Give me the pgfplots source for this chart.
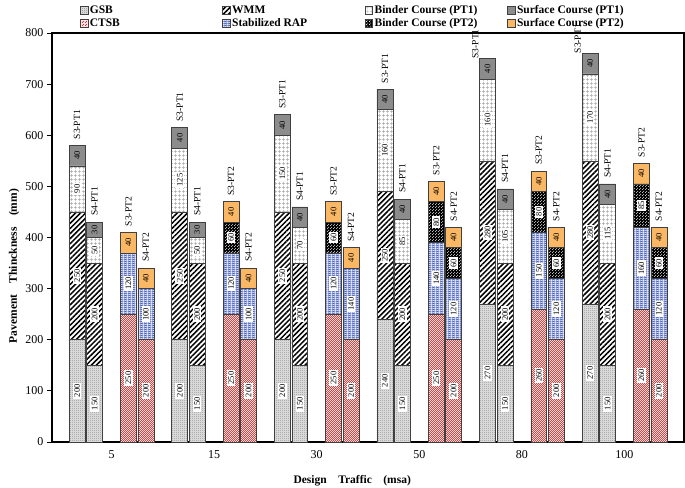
\documentclass[border=0pt]{standalone}
\usepackage{fontspec}
\setmainfont{Liberation Serif}
\usepackage{pgfplots}
\pgfplotsset{compat=1.18}
\usepackage{pgfplotstable}
\usetikzlibrary{patterns,patterns.meta}

\pgfdeclarepatternformonly{fdots}{\pgfpoint{0pt}{0pt}}{\pgfpoint{1.6pt}{1.6pt}}{\pgfpoint{1.6pt}{1.6pt}}{%
  \pgfpathcircle{\pgfpoint{0.4pt}{0.4pt}}{0.45pt}\pgfusepath{fill}%
  \pgfpathcircle{\pgfpoint{1.2pt}{1.2pt}}{0.45pt}\pgfusepath{fill}}
\pgfdeclarepatternformonly{cdots}{\pgfpoint{0pt}{0pt}}{\pgfpoint{2.4pt}{2.4pt}}{\pgfpoint{2.4pt}{2.4pt}}{%
  \pgfpathcircle{\pgfpoint{0.6pt}{0.6pt}}{0.65pt}\pgfusepath{fill}%
  \pgfpathcircle{\pgfpoint{1.8pt}{1.8pt}}{0.65pt}\pgfusepath{fill}}
\pgfdeclarepatternformonly{wdots}{\pgfpoint{0pt}{0pt}}{\pgfpoint{3pt}{3pt}}{\pgfpoint{3pt}{3pt}}{%
  \pgfpathcircle{\pgfpoint{0.75pt}{0.75pt}}{0.65pt}\pgfusepath{fill}%
  \pgfpathcircle{\pgfpoint{2.25pt}{2.25pt}}{0.65pt}\pgfusepath{fill}}
\pgfdeclarepatternformonly{zz}{\pgfpoint{0pt}{0pt}}{\pgfpoint{4pt}{2.2pt}}{\pgfpoint{4pt}{2.2pt}}{%
  \pgfsetlinewidth{0.7pt}%
  \pgfpathmoveto{\pgfpoint{0pt}{0.5pt}}%
  \pgfpathlineto{\pgfpoint{1pt}{1.6pt}}%
  \pgfpathlineto{\pgfpoint{2pt}{0.5pt}}%
  \pgfpathlineto{\pgfpoint{3pt}{1.6pt}}%
  \pgfpathlineto{\pgfpoint{4pt}{0.5pt}}%
  \pgfusepath{stroke}}

\definecolor{sgray}{RGB}{140,140,140}
\definecolor{sorange}{RGB}{250,183,100}
\definecolor{cred}{RGB}{200,55,55}
\definecolor{rblue}{RGB}{60,90,175}

\pgfplotstableread{
x      GSB WMM BA  SA CTSB RAP BB SB lab    side
-0.335 200 250 90  40 0    0   0  0  S3-PT1 0
-0.165 150 200 50  30 0    0   0  0  S4-PT1 0
0.165  0   0   0   0  250  120 0  40 S3-PT2 0
0.335  0   0   0   0  200  100 0  40 S4-PT2 0
0.665  200 250 125 40 0    0   0  0  S3-PT1 0
0.835  150 200 50  30 0    0   0  0  S4-PT1 0
1.165  0   0   0   0  250  120 60 40 S3-PT2 0
1.335  0   0   0   0  200  100 0  40 S4-PT2 0
1.665  200 250 150 40 0    0   0  0  S3-PT1 0
1.835  150 200 70  40 0    0   0  0  S4-PT1 0
2.165  0   0   0   0  250  120 60 40 S3-PT2 0
2.335  0   0   0   0  200  140 0  40 S4-PT2 0
2.665  240 250 160 40 0    0   0  0  S3-PT1 0
2.835  150 200 85  40 0    0   0  0  S4-PT1 0
3.165  0   0   0   0  250  140 80 40 S3-PT2 0
3.335  0   0   0   0  200  120 60 40 S4-PT2 0
3.665  270 280 160 40 0    0   0  0  S3-PT1 1
3.835  150 200 105 40 0    0   0  0  S4-PT1 0
4.165  0   0   0   0  260  150 80 40 S3-PT2 0
4.335  0   0   0   0  200  120 60 40 S4-PT2 0
4.665  270 280 170 40 0    0   0  0  S3-PT1 1
4.835  150 200 115 40 0    0   0  0  S4-PT1 0
5.165  0   0   0   0  260  160 85 40 S3-PT2 0
5.335  0   0   0   0  200  120 60 40 S4-PT2 0
}\data

\pgfplotsset{
  common/.style={scale only axis, width=632pt, height=409pt,
    xmin=-0.58, xmax=5.58, ymin=0, ymax=800},
  lab/.style={only marks, mark=text, text mark={},
    nodes near coords, point meta=explicit symbolic,
    every node near coord/.append style={rotate=90, anchor=center, fill=white,
      inner xsep=1.5pt, inner ysep=1.4pt, font=\fontsize{8.5}{8.5}\selectfont, text=black}},
  slab/.style={lab, every node near coord/.append style={fill=none}},
  toplab/.style={only marks, mark=text, text mark={},
    nodes near coords, point meta=explicit symbolic,
    every node near coord/.append style={rotate=90, anchor=west, fill=none,
      inner sep=0pt, inner xsep=6pt, font=\fontsize{9.5}{9.5}\selectfont, text=black}},
}

\begin{document}
\begin{tikzpicture}
\begin{axis}[common, name=ax,
  ybar stacked, bar width=0.155,
  legend image code/.code={\draw[#1] (0pt,-3.8pt) rectangle (7.6pt,3.8pt);},
  every axis plot/.append style={draw=black!75, line width=0.6pt},
  xtick={0,1,2,3,4,5}, xticklabels={5,15,30,50,80,100},
  ytick={0,100,...,800}, ytick pos=left,
  tick align=outside, major tick length=5pt,
  x tick style={draw=none},
  tick style={line width=0.9pt, black},
  axis line style={line width=1.1pt},
  ticklabel style={font=\fontsize{12}{12}\selectfont},
  /pgf/number format/assume math mode=true,
  xlabel={\bfseries Design\hspace{1em}Traffic\hspace{1em}(msa)},
  xlabel style={at={(axis description cs:0.475,-0.094)}, anchor=center, font=\fontsize{11.5}{12}\selectfont},
  ylabel={\bfseries Pavement\hspace{1em}Thinckness\hspace{1em}(mm)},
  ylabel style={at={(axis description cs:-0.06,0.43)}, anchor=center, font=\fontsize{11.5}{12}\selectfont},
  legend columns=4,
  legend style={draw=none, fill=none, at={(axis description cs:0.044,1.008)}, anchor=south west,
    font=\bfseries\fontsize{11.5}{12}\selectfont, column sep=0pt, row sep=0pt,
    inner sep=0pt, nodes={inner sep=1.6pt}},
]
\addplot[fill=gray!22, postaction={pattern=fdots, pattern color=black!55}] table[x=x,y=GSB]{\data};
\addplot[fill=white, postaction={pattern={Lines[angle=45, distance=3.6pt, line width=1.5pt]}, pattern color=black}] table[x=x,y=WMM]{\data};
\addplot[fill=white, postaction={pattern={Hatch[angle=0, distance=4pt, line width=0.5pt]}, pattern color=gray!70}] table[x=x,y=BA]{\data};
\addplot[fill=sgray] table[x=x,y=SA]{\data};
\addplot[fill=red!10, postaction={pattern=cdots, pattern color=cred}] table[x=x,y=CTSB]{\data};
\addplot[fill=blue!8, postaction={pattern=zz, pattern color=rblue}] table[x=x,y=RAP]{\data};
\addplot[fill=black, postaction={pattern=wdots, pattern color=white}] table[x=x,y=BB]{\data};
\addplot[fill=sorange] table[x=x,y=SB]{\data};
\legend{\makebox[131pt][l]{GSB},\makebox[131pt][l]{WMM},\makebox[131pt][l]{Binder Course (PT1)},\makebox[120pt][l]{Surface Course (PT1)},
  \makebox[131pt][l]{CTSB},\makebox[131pt][l]{Stabilized RAP},\makebox[131pt][l]{Binder Course (PT2)},\makebox[120pt][l]{Surface Course (PT2)}}
\end{axis}
\begin{axis}[common, hide axis, clip=false]
\addplot[lab, restrict expr to domain={\thisrow{GSB}}{1:2000}] table[x=x, y expr=\thisrow{GSB}/2, meta=GSB]{\data};
\addplot[lab, restrict expr to domain={\thisrow{WMM}}{1:2000}] table[x=x, y expr=\thisrow{GSB}+\thisrow{WMM}/2, meta=WMM]{\data};
\addplot[lab, restrict expr to domain={\thisrow{BA}}{1:2000}] table[x=x, y expr=\thisrow{GSB}+\thisrow{WMM}+\thisrow{BA}/2, meta=BA]{\data};
\addplot[slab, restrict expr to domain={\thisrow{SA}}{1:2000}] table[x=x, y expr=\thisrow{GSB}+\thisrow{WMM}+\thisrow{BA}+\thisrow{SA}/2, meta=SA]{\data};
\addplot[lab, restrict expr to domain={\thisrow{CTSB}}{1:2000}] table[x=x, y expr=\thisrow{CTSB}/2, meta=CTSB]{\data};
\addplot[lab, restrict expr to domain={\thisrow{RAP}}{1:2000}] table[x=x, y expr=\thisrow{CTSB}+\thisrow{RAP}/2, meta=RAP]{\data};
\addplot[lab, restrict expr to domain={\thisrow{BB}}{1:2000}] table[x=x, y expr=\thisrow{CTSB}+\thisrow{RAP}+\thisrow{BB}/2, meta=BB]{\data};
\addplot[slab, restrict expr to domain={\thisrow{SB}}{1:2000}] table[x=x, y expr=\thisrow{CTSB}+\thisrow{RAP}+\thisrow{BB}+\thisrow{SB}/2, meta=SB]{\data};
\addplot[toplab, restrict expr to domain={\thisrow{side}}{-0.5:0.5}] table[x=x, y expr=\thisrow{GSB}+\thisrow{WMM}+\thisrow{BA}+\thisrow{SA}+\thisrow{CTSB}+\thisrow{RAP}+\thisrow{BB}+\thisrow{SB}, meta=lab]{\data};
\addplot[toplab, every node near coord/.append style={inner xsep=0pt}, restrict expr to domain={\thisrow{side}}{0.5:1.5}] table[x expr=\thisrow{x}-0.12, y expr=\thisrow{GSB}+\thisrow{WMM}+\thisrow{BA}+\thisrow{SA}+\thisrow{CTSB}+\thisrow{RAP}+\thisrow{BB}+\thisrow{SB}, meta=lab]{\data};
\end{axis}
\pgfresetboundingbox
\path ([xshift=-52pt,yshift=-45pt]ax.south west) rectangle ([xshift=1pt,yshift=33pt]ax.north east);
\end{tikzpicture}
\end{document}
